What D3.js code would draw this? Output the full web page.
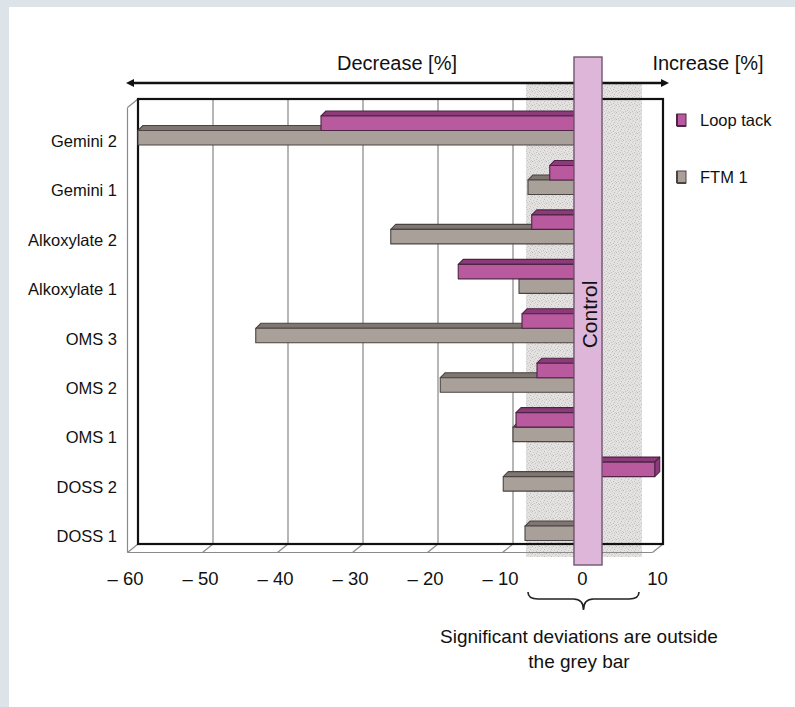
<!DOCTYPE html>
<html>
<head>
<meta charset="utf-8">
<script src="https://cdn.jsdelivr.net/npm/d3@7"></script>
<style>
html,body{margin:0;padding:0;background:#fff;}
svg{display:block;font-family:"Liberation Sans",Arial,sans-serif;}
</style>
</head>
<body>
<svg id="chart" width="795" height="707"></svg>
<script>
// ---- data ----
const categories = ["Gemini 2","Gemini 1","Alkoxylate 2","Alkoxylate 1","OMS 3","OMS 2","OMS 1","DOSS 2","DOSS 1"];
const seriesNames = ["Loop tack","FTM 1"];
const loopTack = [-35.6, -5.1, -7.5, -17.3, -8.8, -6.8, -9.6, 8.9, 0];
const ftm1     = [-60, -8.0, -26.3, -9.2, -44.3, -19.7, -10.0, -11.3, -8.4];
const tickValues = [-60,-50,-40,-30,-20,-10,0,10];
const gridValues = [-50,-40,-30,-20,-10];
const significanceBand = [-8.27, 7.2];
const controlHalfWidth = 1.87;

// ---- layout ----
const W = 795, H = 707;
const svg = d3.select("#chart");
const plot = {left:138, right:663, top:99, bottom:544};
const depth = {dx:-10.5, dy:8.5};     // floor/wall front offset
const barDepth = {dx:5, dy:-5};       // bar top face offset

const x = d3.scaleLinear().domain([-60,10]).range([plot.left, plot.right]);
const y = d3.scaleBand().domain(categories).range([plot.top, plot.bottom]);
const ys = d3.scaleBand().domain(seriesNames).range([17, 46]);

const colors = {
  "Loop tack": {front:"#b95a9e", top:"#8c3a7a", stroke:"#4e2446"},
  "FTM 1":     {front:"#aaa09a", top:"#7f7571", stroke:"#4a4442"}
};

// page background strips
svg.append("rect").attr("width",W).attr("height",H).attr("fill","#dce3e9");
svg.append("rect").attr("x",9).attr("y",7).attr("width",W-9).attr("height",H-7).attr("fill","#ffffff");

// stipple pattern for grey band (fixed dot layout)
const defs = svg.append("defs");
const pat = defs.append("pattern").attr("id","stipple").attr("patternUnits","userSpaceOnUse")
  .attr("width",7).attr("height",7);
pat.append("rect").attr("width",7).attr("height",7).attr("fill","#e4e1e1");
const dots = [[0,0,"#bdb9b9"],[3,1,"#c9c5c5"],[5,3,"#bfbbbb"],[1,4,"#cbc7c7"],[4,5,"#c3bfbf"],[6,6,"#d0cccc"],[2,2,"#d3cfcf"],[6,1,"#d6d2d2"],[2,6,"#c7c3c3"],[5,0,"#d4d0d0"]];
dots.forEach(d=>pat.append("rect").attr("x",d[0]).attr("y",d[1]).attr("width",1).attr("height",1).attr("fill",d[2]));

// significance band
svg.append("rect")
  .attr("x", x(significanceBand[0]))
  .attr("y", 82)
  .attr("width", x(significanceBand[1]) - x(significanceBand[0]))
  .attr("height", 557 - 82)
  .attr("fill","url(#stipple)");

// gridlines on back wall
svg.append("g").selectAll("line").data(gridValues).join("line")
  .attr("x1",d=>x(d)).attr("x2",d=>x(d))
  .attr("y1",plot.top).attr("y2",plot.bottom)
  .attr("stroke","#8f8f8f").attr("stroke-width",1.3);

// floor & left wall (thin grey)
const thin = svg.append("g").attr("stroke","#8a8a8a").attr("stroke-width",1.2).attr("fill","none");
thin.append("line").attr("x1",plot.left+depth.dx).attr("x2",plot.right+depth.dx)
  .attr("y1",plot.bottom+depth.dy).attr("y2",plot.bottom+depth.dy);
thin.append("line").attr("x1",plot.left+depth.dx).attr("x2",plot.left+depth.dx)
  .attr("y1",plot.top+depth.dy).attr("y2",plot.bottom+depth.dy);
thin.append("line").attr("x1",plot.left).attr("y1",plot.top)
  .attr("x2",plot.left+depth.dx).attr("y2",plot.top+depth.dy);
thin.selectAll("line.tk").data(tickValues).join("line").attr("class","tk")
  .attr("x1",d=>x(d)).attr("y1",plot.bottom)
  .attr("x2",d=>x(d)+depth.dx).attr("y2",plot.bottom+depth.dy);

// frame (thick)
svg.append("rect").attr("x",plot.left).attr("y",plot.top)
  .attr("width",plot.right-plot.left).attr("height",plot.bottom-plot.top)
  .attr("fill","none").attr("stroke","#111").attr("stroke-width",2.2);

// tick labels
svg.append("g").selectAll("text").data(tickValues).join("text")
  .attr("x",d=>x(d)+depth.dx-(d<0?2:0)+(d>=0?5:0))
  .attr("y",585)
  .attr("text-anchor","middle")
  .attr("font-size",18.5).attr("fill","#111")
  .text(d=> d<0 ? "\u2013 " + Math.abs(d) : String(d));

// category labels
svg.append("g").selectAll("text").data(categories).join("text")
  .attr("x",117)
  .attr("y",d=>y(d)+42)
  .attr("dy","0.35em")
  .attr("text-anchor","end")
  .attr("font-size",16.5).attr("fill","#111")
  .text(d=>d);

// bars
const barData = [];
categories.forEach((c,i)=>{
  barData.push({cat:c, series:"FTM 1", value:ftm1[i]});
  barData.push({cat:c, series:"Loop tack", value:loopTack[i]});
});
const bars = svg.append("g");
barData.forEach(b=>{
  if (b.value === 0) return;
  const col = colors[b.series];
  const yt = y(b.cat) + ys(b.series);
  const h = ys.bandwidth();
  const x0 = x(Math.min(0,b.value)), x1 = x(Math.max(0,b.value));
  const g = bars.append("g").attr("stroke",col.stroke).attr("stroke-width",1.1).attr("stroke-linejoin","round");
  g.append("path").attr("fill",col.top)
    .attr("d",`M${x0},${yt} L${x0+barDepth.dx},${yt+barDepth.dy} L${x1+barDepth.dx},${yt+barDepth.dy} L${x1},${yt} Z`);
  if (b.value > 0) {
    g.append("path").attr("fill",col.top)
      .attr("d",`M${x1},${yt} L${x1+barDepth.dx},${yt+barDepth.dy} L${x1+barDepth.dx},${yt+h+barDepth.dy} L${x1},${yt+h} Z`);
  }
  g.append("rect").attr("x",x0).attr("y",yt).attr("width",x1-x0).attr("height",h).attr("fill",col.front);
});

// double arrow
const arrowY = 83;
svg.append("line").attr("x1",131).attr("x2",664).attr("y1",arrowY).attr("y2",arrowY)
  .attr("stroke","#111").attr("stroke-width",2.4);
svg.append("path").attr("d",`M126,${arrowY} L134,${arrowY-4} L134,${arrowY+4} Z`).attr("fill","#111");
svg.append("path").attr("d",`M669,${arrowY} L661,${arrowY-4} L661,${arrowY+4} Z`).attr("fill","#111");

svg.append("text").attr("x",397).attr("y",70).attr("text-anchor","middle")
  .attr("font-size",20).attr("fill","#111").text("Decrease [%]");
svg.append("text").attr("x",708).attr("y",70).attr("text-anchor","middle")
  .attr("font-size",20).attr("fill","#111").text("Increase [%]");

// control bar
svg.append("rect")
  .attr("x",x(-controlHalfWidth)).attr("y",57)
  .attr("width",x(controlHalfWidth)-x(-controlHalfWidth)).attr("height",565-57)
  .attr("fill","#ddb6da").attr("stroke","#6b4a67").attr("stroke-width",1.3);
svg.append("text")
  .attr("transform",`translate(${x(0)+9},314.5) rotate(-90)`)
  .attr("text-anchor","middle")
  .attr("font-size",21).attr("fill","#111").text("Control");

// legend
const legend = svg.append("g");
seriesNames.forEach((s,i)=>{
  const ly = 114 + i*57;
  const col = colors[s];
  legend.append("rect").attr("x",677).attr("y",ly).attr("width",9).attr("height",12)
    .attr("fill",col.front).attr("stroke",col.stroke).attr("stroke-width",1);
  legend.append("line").attr("x1",677).attr("x2",677).attr("y1",ly).attr("y2",ly+12)
    .attr("stroke",col.stroke).attr("stroke-width",2);
  legend.append("line").attr("x1",677).attr("x2",686).attr("y1",ly+12).attr("y2",ly+12)
    .attr("stroke",col.stroke).attr("stroke-width",2);
  legend.append("text").attr("x",700).attr("y",ly+6).attr("dy","0.35em")
    .attr("font-size",16.5).attr("fill","#111").text(s);
});

// brace under significance band
const bl = x(significanceBand[0]) + 2, br = x(significanceBand[1]) - 3;
const bc = (bl+br)/2;
svg.append("path")
  .attr("d",`M${bl},592 Q${bl},599 ${bl+10},599 L${bc-10},599 Q${bc},599 ${bc},610 Q${bc},599 ${bc+10},599 L${br-10},599 Q${br},599 ${br},592`)
  .attr("fill","none").attr("stroke","#222").attr("stroke-width",1.6);

svg.append("text").attr("x",579).attr("y",643).attr("text-anchor","middle")
  .attr("font-size",19).attr("fill","#111").text("Significant deviations are outside");
svg.append("text").attr("x",579).attr("y",668).attr("text-anchor","middle")
  .attr("font-size",19).attr("fill","#111").text("the grey bar");
</script>
</body>
</html>
